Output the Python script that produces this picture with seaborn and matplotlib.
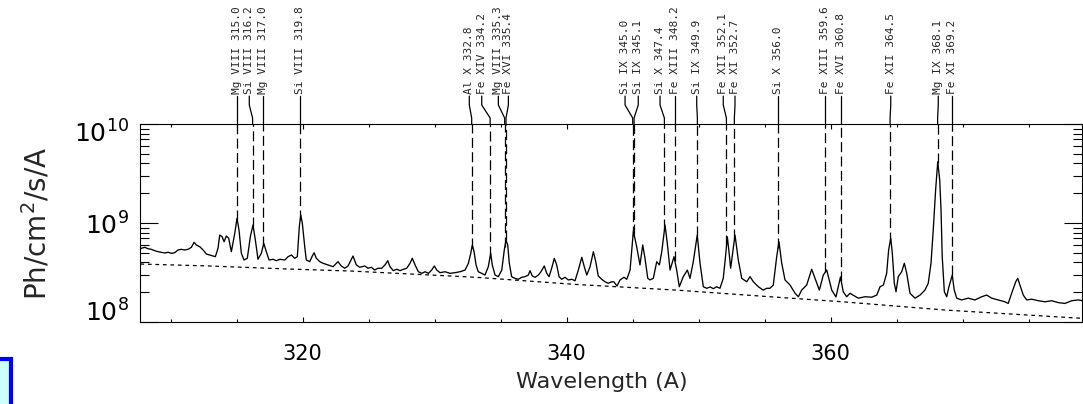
import numpy as np
import pandas as pd
import matplotlib
matplotlib.use("Agg")
import matplotlib.pyplot as plt
import matplotlib.transforms as mtransforms
from matplotlib.patches import Rectangle
from matplotlib.ticker import LogLocator, NullFormatter
import seaborn as sns

# Observed spectrum: wavelength (A) and flux (units of 1e8 Ph/cm^2/s/A)
spec_wl = [
    307.70, 307.77, 308.03, 308.28, 308.53, 308.79, 309.04, 309.29, 309.55, 309.80,
    310.05, 310.30, 310.55, 310.80, 311.06, 311.31, 311.56, 311.77, 311.94, 312.20,
    312.45, 312.70, 312.95, 313.20, 313.38, 313.58, 313.71, 313.89, 314.04, 314.21,
    314.39, 314.59, 314.85, 315.02, 315.17, 315.35, 315.55, 315.80, 316.03, 316.23,
    316.41, 316.61, 316.86, 317.05, 317.24, 317.45, 317.75, 318.00, 318.26, 318.64,
    318.89, 319.14, 319.39, 319.59, 319.74, 319.85, 319.97, 320.15, 320.27, 320.53,
    320.70, 320.86, 321.03, 321.29, 321.54, 321.92, 322.30, 322.67, 322.92, 323.18,
    323.43, 323.81, 324.06, 324.32, 324.70, 324.95, 325.20, 325.45, 325.70, 325.98,
    326.23, 326.44, 326.61, 326.86, 327.12, 327.37, 327.62, 327.88, 328.13, 328.30,
    328.51, 328.76, 329.02, 329.27, 329.52, 329.77, 329.97, 330.15, 330.40, 330.78,
    331.16, 331.54, 331.92, 332.30, 332.55, 332.73, 332.85, 332.98, 333.13, 333.30,
    333.56, 333.81, 334.06, 334.24, 334.36, 334.57, 334.82, 335.08, 335.27, 335.40,
    335.53, 335.65, 335.83, 336.08, 336.33, 336.59, 336.84, 337.09, 337.22, 337.39,
    337.60, 337.85, 338.05, 338.30, 338.49, 338.66, 338.86, 339.06, 339.24, 339.42,
    339.62, 339.87, 340.12, 340.38, 340.63, 340.88, 341.14, 341.33, 341.52, 341.77,
    342.02, 342.20, 342.39, 342.65, 342.90, 343.15, 343.41, 343.58, 343.81, 344.04,
    344.34, 344.55, 344.80, 345.05, 345.30, 345.55, 345.76, 345.93, 346.14, 346.31,
    346.56, 346.82, 347.02, 347.20, 347.45, 347.62, 347.83, 348.13, 348.33, 348.53,
    348.83, 349.14, 349.34, 349.59, 349.89, 350.10, 350.35, 350.61, 350.86, 351.11,
    351.36, 351.61, 351.86, 352.02, 352.17, 352.32, 352.42, 352.60, 352.75, 353.00,
    353.26, 353.64, 353.89, 354.14, 354.52, 354.89, 355.15, 355.40, 355.65, 355.91,
    356.08, 356.29, 356.54, 356.92, 357.30, 357.55, 357.80, 358.18, 358.56, 358.81,
    359.14, 359.44, 359.70, 360.08, 360.40, 360.74, 360.95, 361.21, 361.46, 362.09,
    362.60, 363.11, 363.49, 363.74, 363.99, 364.24, 364.39, 364.55, 364.67, 364.82,
    364.95, 365.12, 365.38, 365.58, 365.76, 366.01, 366.39, 366.77, 367.14, 367.39,
    367.60, 367.77, 367.95, 368.11, 368.26, 368.36, 368.45, 368.61, 368.79, 368.96,
    369.21, 369.36, 369.55, 369.92, 370.42, 370.93, 371.44, 371.82, 372.20, 372.70,
    373.20, 373.45, 373.71, 374.02, 374.17, 374.34, 374.59, 374.85, 375.23, 375.73,
    376.24, 376.74, 377.24, 377.75, 378.26, 378.76, 379.11,
]
spec_flux = [
    5.45, 5.55, 5.68, 5.50, 5.42, 5.25, 5.13, 5.06, 4.98, 5.06,
    4.94, 5.01, 5.34, 5.42, 5.34, 5.42, 5.68, 6.38, 6.00, 5.76,
    5.34, 4.86, 4.75, 4.64, 4.57, 5.55, 7.56, 7.27, 6.47, 7.39,
    7.01, 5.13, 7.87, 11.15, 8.50, 4.94, 4.23, 4.40, 7.27, 9.54,
    6.73, 4.30, 4.94, 6.23, 5.13, 4.23, 4.30, 4.16, 4.30, 4.23,
    4.57, 4.75, 4.40, 4.57, 9.18, 12.05, 9.93, 5.76, 4.23, 4.07,
    4.57, 5.01, 4.40, 4.07, 3.92, 3.77, 3.62, 4.07, 3.68, 3.49,
    3.68, 4.64, 3.77, 3.57, 3.68, 3.49, 3.57, 3.35, 3.49, 3.49,
    3.77, 4.16, 3.62, 3.30, 3.41, 3.30, 3.41, 3.49, 3.92, 4.40,
    3.77, 3.22, 3.10, 3.22, 3.10, 3.35, 3.68, 3.35, 3.15, 3.22,
    3.10, 3.15, 3.22, 3.35, 3.92, 4.94, 6.00, 5.13, 3.77, 3.22,
    3.10, 2.98, 3.62, 4.94, 3.77, 2.98, 2.87, 3.35, 5.34, 6.73,
    6.00, 3.92, 2.87, 2.76, 2.70, 2.83, 2.87, 2.98, 3.30, 2.92,
    2.83, 2.98, 3.22, 3.68, 3.10, 2.87, 3.49, 4.40, 3.77, 2.87,
    2.70, 2.83, 2.66, 2.70, 2.61, 3.35, 4.50, 3.62, 2.98, 3.62,
    5.13, 4.07, 2.92, 2.70, 2.55, 2.46, 2.55, 2.54, 2.31, 2.66,
    2.83, 2.70, 3.35, 8.30, 5.76, 3.77, 6.00, 4.40, 2.76, 2.66,
    2.76, 4.07, 3.77, 5.13, 9.54, 6.23, 3.35, 4.57, 3.35, 2.27,
    2.87, 3.35, 2.76, 4.07, 7.56, 3.92, 2.27, 2.19, 2.26, 2.17,
    2.27, 2.19, 2.76, 4.43, 7.27, 4.75, 3.49, 5.34, 7.56, 4.23,
    2.76, 2.55, 2.87, 2.55, 2.27, 2.10, 2.19, 2.19, 2.36, 4.57,
    6.47, 3.92, 2.66, 2.36, 1.95, 1.80, 2.10, 2.36, 3.41, 2.76,
    2.10, 2.98, 3.35, 2.10, 1.79, 2.85, 2.02, 1.80, 1.95, 1.74,
    1.80, 1.78, 1.87, 2.27, 2.36, 3.10, 5.34, 7.01, 4.94, 2.46,
    2.02, 2.87, 3.22, 3.92, 3.10, 1.95, 1.74, 1.87, 2.10, 2.46,
    3.92, 8.50, 21.5, 41.6, 27.2, 13.5, 4.57, 2.02, 1.80, 2.27,
    2.98, 2.10, 1.74, 1.67, 1.74, 1.67, 1.80, 1.87, 1.74, 1.67,
    1.60, 1.54, 1.95, 2.55, 2.76, 2.36, 1.87, 1.67, 1.70, 1.64,
    1.60, 1.64, 1.57, 1.54, 1.64, 1.67, 1.64,
]

# Fitted continuum level (units of 1e8 Ph/cm^2/s/A)
cont_wl = [307.7, 312.9, 318.9, 323.7, 333.1, 340.6, 348.3, 355.9, 360.9, 368.7, 379.0]
cont_flux = [3.85, 3.68, 3.43, 3.27, 2.83, 2.40, 2.10, 1.78, 1.60, 1.32, 1.09]

# Identified emission lines
ion_names = ["Mg VIII", "Si VIII", "Mg VIII", "Si VIII", "Al X", "Fe XIV", "Mg VIII",
             "Fe XVI", "Si IX", "Si IX", "Si X", "Fe XIII", "Si IX", "Fe XII",
             "Fe XI", "Si X", "Fe XIII", "Fe XVI", "Fe XII", "Mg IX", "Fe XI"]
line_wl = [315.0, 316.2, 317.0, 319.8, 332.8, 334.2, 335.3, 335.4, 345.0, 345.1,
           347.4, 348.2, 349.9, 352.1, 352.7, 356.0, 359.6, 360.8, 364.5, 368.1, 369.2]

# Label columns above the frame, spread apart where lines crowd together
label_x = [315.0, 315.95, 317.0, 319.8, 332.62, 333.56, 334.82, 335.58, 344.42, 345.42,
           347.07, 348.2, 349.85, 351.86, 352.75, 356.0, 359.6, 360.8, 364.55, 368.15, 369.2]

x_major = [320, 340, 360]
y_major = [1e8, 1e9, 1e10]

sns.set_style("ticks")
plt.rcParams["font.family"] = ["DejaVu Sans"]
plt.rcParams["mathtext.fontset"] = "dejavusans"
plt.rcParams["axes.edgecolor"] = "black"
plt.rcParams["axes.linewidth"] = 0.8
plt.rcParams["xtick.color"] = "black"
plt.rcParams["ytick.color"] = "black"

W, H = 1083, 404
fig = plt.figure(figsize=(W / 100, H / 100), dpi=100)
ax = fig.add_axes([140 / W, 1 - 322 / H, 942 / W, 198 / H])

spec = pd.DataFrame({"wavelength": spec_wl, "flux": np.array(spec_flux) * 1e8})
cont = pd.DataFrame({"wavelength": cont_wl, "flux": np.array(cont_flux) * 1e8})

sns.lineplot(data=spec, x="wavelength", y="flux", ax=ax, color="black",
             linewidth=0.95, estimator=None, sort=False)
sns.lineplot(data=cont, x="wavelength", y="flux", ax=ax, color="black",
             linewidth=0.9, estimator=None, sort=False, linestyle=(0, (3, 3)))

ax.set_yscale("log")
ax.set_xlim(307.67, 379.04)
ax.set_ylim(1e8, 1e10)

# Dashed markers from each line's peak up to the top of the frame
peak_at_line = np.interp(line_wl, spec_wl, np.array(spec_flux) * 1e8)
ax.vlines(line_wl, peak_at_line, 1e10, colors="black", linewidth=0.9,
          linestyles=[(0, (8, 3.5))])

# Leaders and rotated labels above the frame
trans = mtransforms.blended_transform_factory(ax.transData, ax.transAxes)
for name, wl, lx in zip(ion_names, line_wl, label_x):
    ax.plot([wl, wl, lx, lx], [1.0, 1.030, 1.096, 1.141], transform=trans,
            color="black", linewidth=0.9, clip_on=False)
    ax.text(lx, 1.150, f"{name} {wl:.1f}", rotation=90, ha="center", va="bottom",
            transform=trans, fontsize=8, family="DejaVu Sans Mono")

# Axes ticks and labels
ax.set_xticks(x_major)
ax.set_xticks(np.arange(310, 380, 5), minor=True)
ax.set_yticks(y_major)
ax.yaxis.set_minor_locator(LogLocator(base=10, subs=np.arange(2, 10)))
ax.yaxis.set_minor_formatter(NullFormatter())

ax.tick_params(axis="x", which="both", direction="in", top=True, bottom=True, width=0.8)
ax.tick_params(axis="x", which="major", length=3.6, pad=16, labelsize=15)
ax.tick_params(axis="x", which="minor", length=2.2)
ax.tick_params(axis="y", which="both", direction="in", left=True, right=True, width=0.8)
ax.tick_params(axis="y", which="major", length=13, pad=8, labelsize=18)
ax.tick_params(axis="y", which="minor", length=6.5)

# Decade labels sit on their baseline, nudged down to stay inside the frame
label_drop_px = [0, 12, 19]
for tick, drop in zip(ax.yaxis.get_major_ticks(), label_drop_px):
    lab = tick.label1
    lab.set_va("baseline")
    lab.set_transform(lab.get_transform() +
                      mtransforms.ScaledTranslation(0, -drop / 100, fig.dpi_scale_trans))

ax.set_xlabel("Wavelength (A)", fontsize=16)
ax.xaxis.label.set_va("center")
ax.xaxis.set_label_coords(0.4905, -0.303)
ax.set_ylabel("Ph/cm$^2$/s/A", fontsize=20)
ax.yaxis.label.set_va("center")
ax.yaxis.set_label_coords(-0.110, 0.5)

for side in ["top", "right", "bottom", "left"]:
    ax.spines[side].set_visible(True)
    ax.spines[side].set_color("black")

# Corner button frame
fig.add_artist(Rectangle((-20 / W, -20 / H), 31 / W, (20 + 404 - 359) / H,
                         transform=fig.transFigure, facecolor="#ccffff",
                         edgecolor="#0000ff", linewidth=3.0, clip_on=False))

fig.savefig("out.png", dpi=100)
